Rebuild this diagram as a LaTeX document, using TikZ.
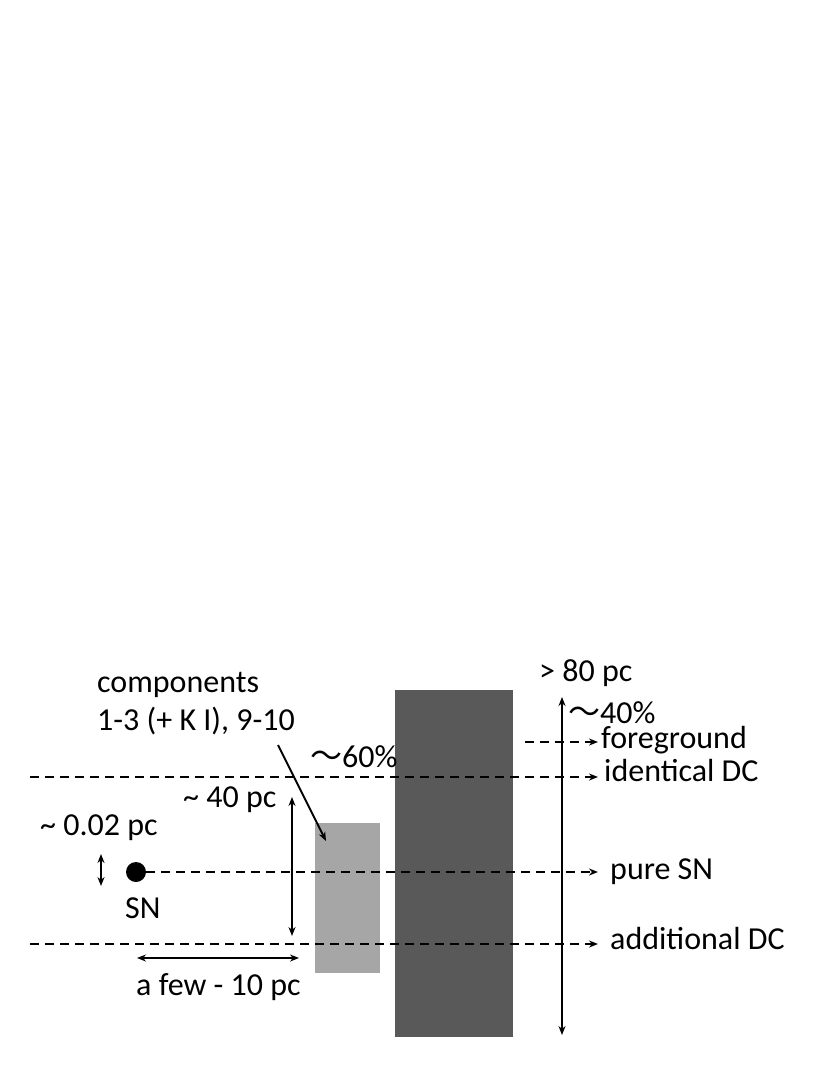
\documentclass[tikz,border=0pt]{standalone}
\usepackage{fontspec}
\setmainfont{Carlito}
\newfontfamily\cjk{Noto Sans CJK JP}
\usetikzlibrary{arrows.meta}
\definecolor{darkbox}{HTML}{595959}
\definecolor{lightbox}{HTML}{A6A6A6}
\begin{document}
\begin{tikzpicture}[x=1pt,y=-1pt,
 lbl/.style={anchor=base west,inner sep=0pt,font=\fontsize{32}{38}\selectfont},
 tip/.tip={Stealth[length=9pt,width=7pt]},
 dim/.style={line width=2pt,tip-tip},
 onearrow/.style={line width=2pt,-tip},
 dline/.style={line width=2pt,dash pattern=on 9pt off 6pt,-tip},
 slab/.style={draw=none,inner sep=0pt,anchor=north west},
]
\useasboundingbox (0,0) rectangle (830,1075);
\fill[white] (0,0) rectangle (830,1075);

% slabs
\node[slab,fill=darkbox,minimum width=118pt,minimum height=347pt] (dark) at (395,690) {};
\node[slab,fill=lightbox,minimum width=65pt,minimum height=150pt] (light) at (315,823) {};

% SN
\node[circle,fill=black,inner sep=0pt,minimum size=20pt] (sn) at (136,872) {};

% coordinates
\coordinate (idL) at (30,777);
\coordinate (idR) at (598,777);
\coordinate (fgL) at (525,742);
\coordinate (fgR) at (598,742);
\coordinate (psR) at (598,870);
\coordinate (adL) at (30,944);
\coordinate (adR) at (598,944);
\coordinate (bigT) at (562,697);
\coordinate (bigB) at (562,1035);
\coordinate (fortyT) at (292,797);
\coordinate (fortyB) at (292,936);
\coordinate (fewL) at (137,958);
\coordinate (fewR) at (299,958);
\coordinate (smT) at (101,854);
\coordinate (smB) at (101,886);
\coordinate (cmpS) at (278,745);
\coordinate (cmpE) at (326,841);

% dashed lines
\draw[dline] (idL) -- (idR);
\draw[dline] (fgL) -- (fgR);
\draw[dline] (sn.east) -- (psR |- sn.east);
\draw[dline] (adL) -- (adR);

% dimension arrows
\draw[dim] (bigT) -- (bigB);
\draw[dim] (fortyT) -- (fortyB);
\draw[dim] (fewL) -- (fewR);
\draw[dim] (smT) -- (smB);
\draw[onearrow] (cmpS) -- (cmpE);

% labels
\node[lbl] (comp1) at (97,692) {components};
\node[lbl] (comp2) at (97,730) {1-3 (+ K I), 9-10};
\node[lbl] (sixty) at (310,767) {{\cjk ～}60\%};
\node[lbl] (forty) at (183,807) {\textasciitilde{} 40 pc};
\node[lbl] (small) at (40,835) {\textasciitilde{} 0.02 pc};
\node[lbl] (eighty) at (539,681) {> 80 pc};
\node[lbl] (fortyp) at (568,723) {{\cjk ～}40\%};
\node[lbl] (fg) at (601,748) {foreground};
\node[lbl] (id) at (604,781) {identical DC};
\node[lbl] (snl) at (125,918) {SN};
\node[lbl] (few) at (136,995) {a few - 10 pc};
\node[lbl] (pure) at (610,879) {pure SN};
\node[lbl] (add) at (610,949) {additional DC};
\end{tikzpicture}
\end{document}
